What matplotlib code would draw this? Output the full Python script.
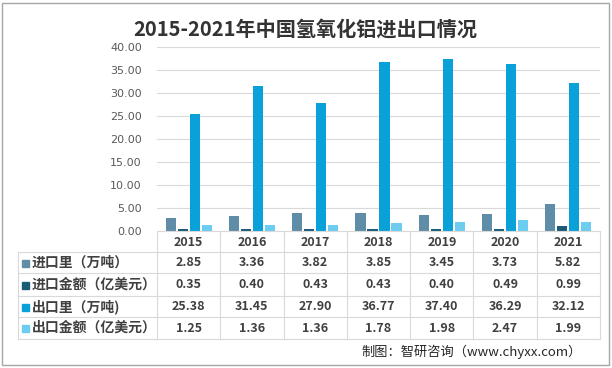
import matplotlib.pyplot as plt
import matplotlib.transforms as mtransforms
from matplotlib.lines import Line2D
from matplotlib.patches import Rectangle
import numpy as np

plt.rcParams['font.family'] = ['Noto Sans CJK SC', 'DejaVu Sans']

years = ['2015', '2016', '2017', '2018', '2019', '2020', '2021']
series_names = ['进口里（万吨）', '进口金额（亿美元）', '出口里（万吨)', '出口金额（亿美元）']
import_qty = [2.85, 3.36, 3.82, 3.85, 3.45, 3.73, 5.82]
import_val = [0.35, 0.40, 0.43, 0.43, 0.40, 0.49, 0.99]
export_qty = [25.38, 31.45, 27.90, 36.77, 37.40, 36.29, 32.12]
export_val = [1.25, 1.36, 1.36, 1.78, 1.98, 2.47, 1.99]
colors = ['#5f8ca6', '#1a5c77', '#0aa0d8', '#6ccdf0']

W, H = 612, 368
fig = plt.figure(figsize=(W / 100, H / 100), dpi=100)

def fy(py):
    return 1 - py / H

def fx(px):
    return px / W

# plot area in pixels: x 157..600, y 47..231
ax = fig.add_axes([fx(157), fy(231), fx(600) - fx(157), fy(47) - fy(231)])
x = np.arange(len(years))
offsets = [-0.285, -0.095, 0.095, 0.285]
for vals, off, c in zip([import_qty, import_val, export_qty, export_val], offsets, colors):
    ax.bar(x + off, vals, width=0.16, color=c, zorder=3)

ax.set_xlim(-0.5, len(years) - 0.5)
ax.set_ylim(0, 40)
ax.set_yticks(np.arange(0, 41, 5))
ax.set_yticklabels([f'{v:.2f}' for v in np.arange(0, 41, 5)], fontsize=8, color='#595959',
                   family=['DejaVu Sans'])
ax.tick_params(axis='y', length=0, pad=11)
ax.set_xticks([])
ax.grid(axis='y', color='#d9d9d9', linewidth=0.8, zorder=0)
for s in ax.spines.values():
    s.set_visible(False)

# data table below the axes
trans = mtransforms.blended_transform_factory(ax.transData, fig.transFigure)
line_c = '#d9d9d9'
row_y = [252, 273, 296, 317, 339]
for py in row_y:
    fig.add_artist(Line2D([fx(18), fx(600)], [fy(py), fy(py)], color=line_c, lw=0.8))
fig.add_artist(Line2D([fx(157), fx(600)], [fy(231), fy(231)], color=line_c, lw=0.8))
fig.add_artist(Line2D([fx(18), fx(18)], [fy(252), fy(339)], color=line_c, lw=0.8))
for i in range(len(years) + 1):
    ax.add_artist(Line2D([i - 0.5, i - 0.5], [fy(231), fy(339)], color=line_c, lw=0.8,
                         transform=trans, clip_on=False))

text_c = '#404040'
for i, yr in enumerate(years):
    fig.text(i, fy(242), yr, transform=trans, ha='center', va='center',
             fontsize=9, fontweight='bold', color=text_c)

all_vals = [import_qty, import_val, export_qty, export_val]
centers = [263, 285, 307, 328]
for name, vals, c, cy in zip(series_names, all_vals, colors, centers):
    fig.add_artist(Rectangle((fx(22), fy(cy + 3.5)), fx(7), 7 / H, color=c))
    fig.text(fx(32), fy(cy), name, ha='left', va='center', fontsize=10,
             fontweight='bold', color=text_c)
    for i, v in enumerate(vals):
        fig.text(i, fy(cy), f'{v:.2f}', transform=trans, ha='center', va='center',
                 fontsize=9, fontweight='bold', color=text_c)

fig.text(fx(305), fy(29), '2015-2021年中国氢氧化铝进出口情况', ha='center', va='center',
         fontsize=14.5, fontweight='bold', color='#333333')
fig.text(fx(582), fy(352), '制图：智研咨询（www.chyxx.com）', ha='right', va='center',
         fontsize=9.5, color='#262626')

fig.add_artist(Rectangle((fx(2), fy(365)), fx(607), 362 / H, fill=False,
                         edgecolor='#a6a6a6', lw=1))

fig.savefig('out.png', dpi=100)
